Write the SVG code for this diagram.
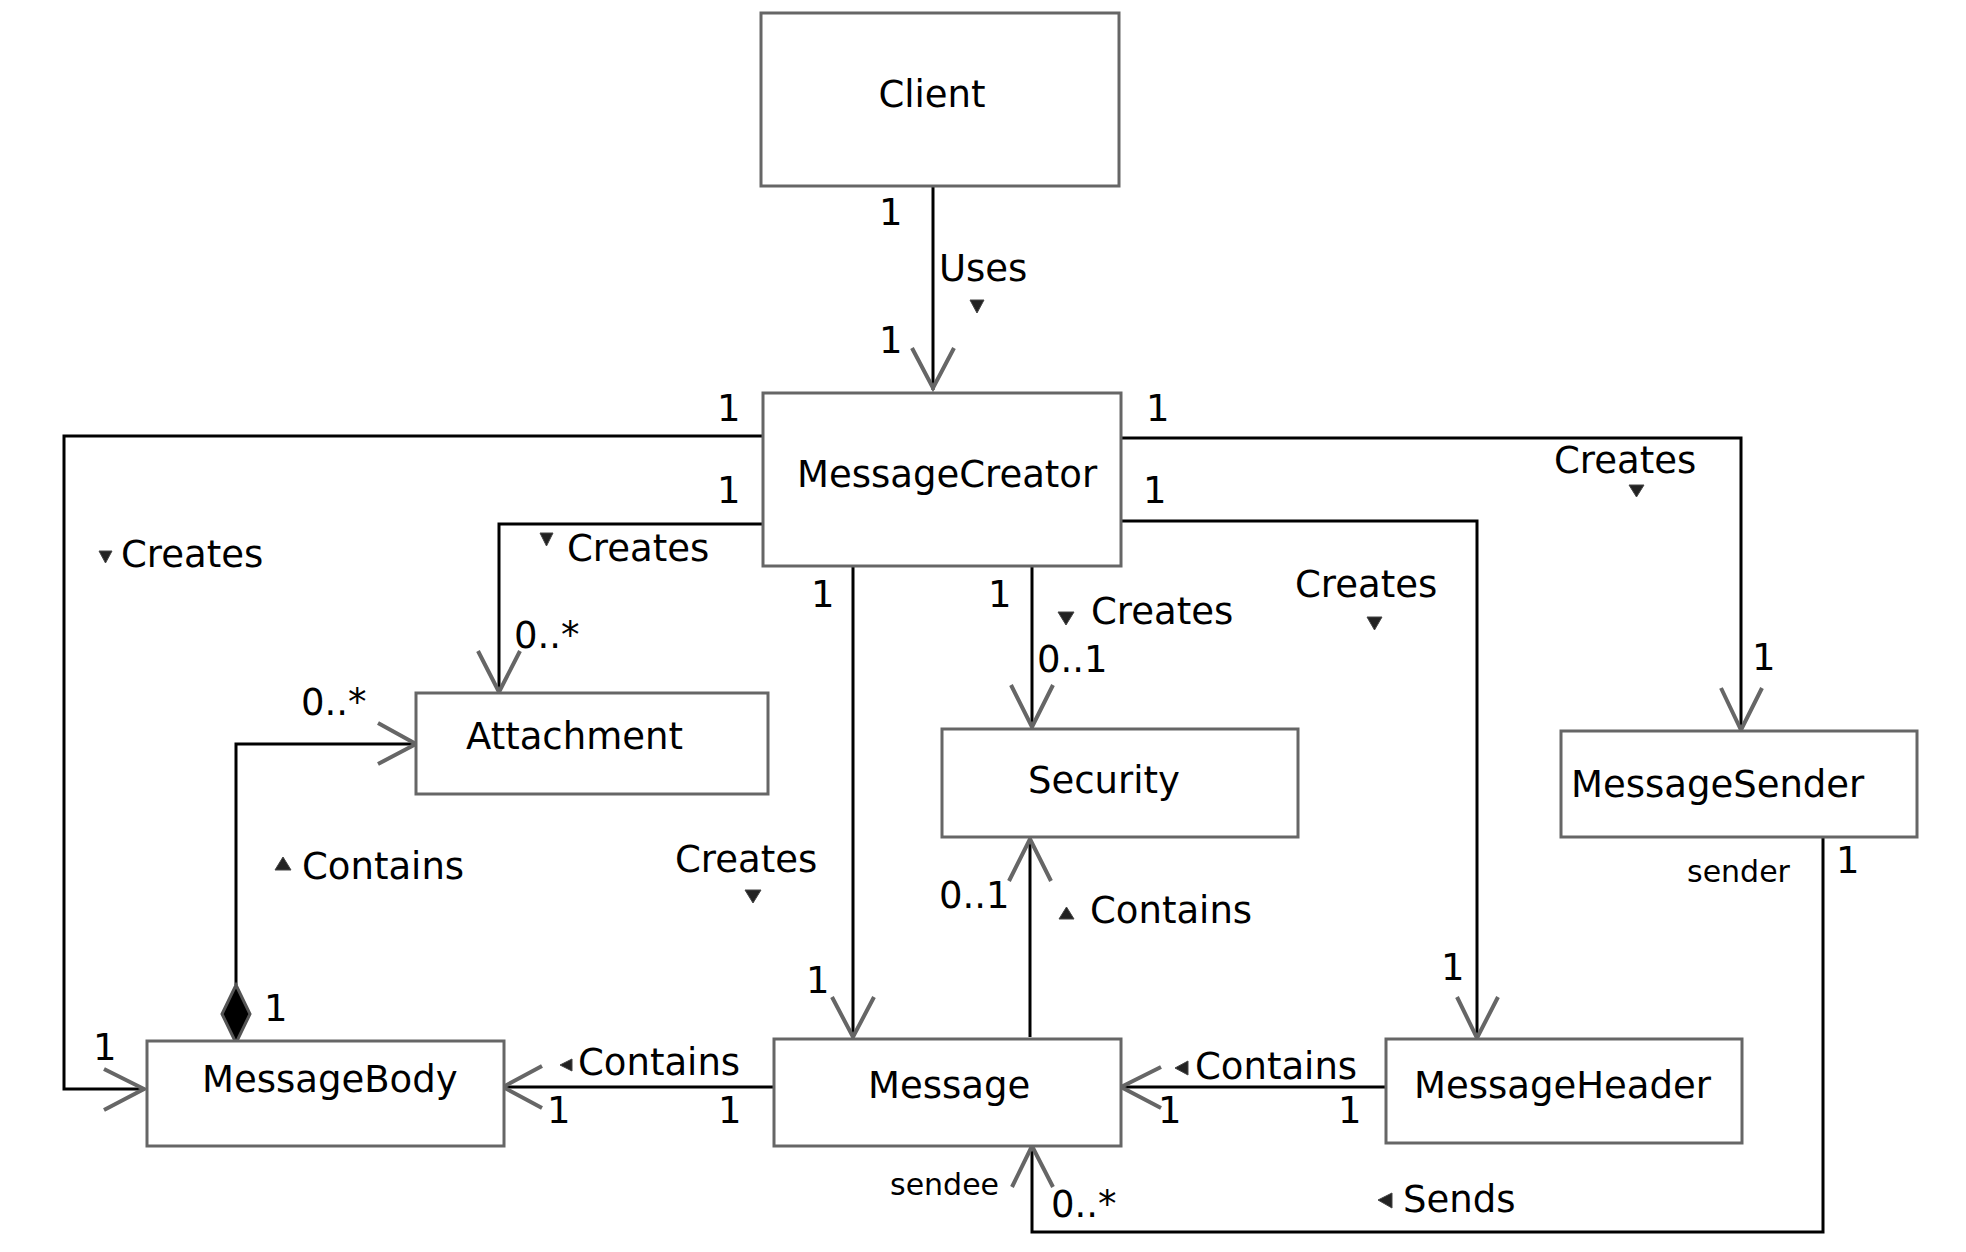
<svg xmlns="http://www.w3.org/2000/svg" width="1966" height="1252" viewBox="0 0 1966 1252">
<style>
.box{fill:#fff;stroke:#666;stroke-width:3}
.name{font-family:"DejaVu Sans",sans-serif;font-size:37px;fill:#000}
.lbl{font-family:"DejaVu Sans",sans-serif;font-size:37px;fill:#000}
.role{font-family:"DejaVu Sans",sans-serif;font-size:30px;fill:#000}
.ln{fill:none;stroke:#000;stroke-width:3}
.ah{fill:none;stroke:#666;stroke-width:4}
.tri{fill:#222;stroke:#444;stroke-width:1}
</style>
<rect width="1966" height="1252" fill="#fff"/>
<g id="connectors">
<path class="ln" d="M933,186 V390"/>
<path class="ah" d="M912,348 L933,388 L954,348"/>
<path class="ln" d="M763,436 H64 V1089 H143"/>
<path class="ah" d="M104,1069 L144,1089 L104,1110"/>
<path class="ln" d="M763,524 H499 V690"/>
<path class="ah" d="M478,651 L499,692 L520,651"/>
<path class="ln" d="M853,566 V1035"/>
<path class="ah" d="M832,997 L853,1037 L874,997"/>
<path class="ln" d="M1032,566 V725"/>
<path class="ah" d="M1011,685 L1032,727 L1053,685"/>
<path class="ln" d="M1121,521 H1477 V1036"/>
<path class="ah" d="M1457,997 L1477,1038 L1498,997"/>
<path class="ln" d="M1121,438 H1741 V728"/>
<path class="ah" d="M1721,688 L1741,730 L1762,688"/>
<path class="ln" d="M236,985 V744 H414"/>
<path class="ah" d="M378,723 L416,744 L378,764"/>
<path d="M236,985 L250,1014 L236,1043 L222,1014 Z" fill="#000" stroke="#555" stroke-width="3"/>
<path class="ln" d="M774,1087 H505"/>
<path class="ah" d="M542,1066 L503,1087 L542,1108"/>
<path class="ln" d="M1030,1037 V841"/>
<path class="ah" d="M1009,881 L1030,839 L1051,881"/>
<path class="ln" d="M1386,1087 H1123"/>
<path class="ah" d="M1161,1067 L1121,1087 L1161,1108"/>
<path class="ln" d="M1823,837 V1232 H1032 V1148"/>
<path class="ah" d="M1012,1187 L1032,1146 L1053,1187"/>
</g>
<g id="labels">
<text class="lbl" x="879" y="225">1</text>
<text class="lbl" x="939" y="281">Uses</text>
<polygon class="tri" points="970,300 984,300 977,313"/>
<text class="lbl" x="879" y="353">1</text>
<text class="lbl" x="717" y="421">1</text>
<text class="lbl" x="717" y="503">1</text>
<polygon class="tri" points="99,551 112,551 105.5,563"/>
<text class="lbl" x="121" y="567">Creates</text>
<polygon class="tri" points="540,533 553,533 546.5,546"/>
<text class="lbl" x="567" y="561">Creates</text>
<text class="lbl" x="514" y="648">0..*</text>
<text class="lbl" x="301" y="715">0..*</text>
<text class="lbl" x="811" y="607">1</text>
<text class="lbl" x="988" y="607">1</text>
<polygon class="tri" points="1058,612 1074,612 1066,625"/>
<text class="lbl" x="1091" y="624">Creates</text>
<text class="lbl" x="1037" y="672">0..1</text>
<text class="lbl" x="1146" y="421">1</text>
<text class="lbl" x="1143" y="503">1</text>
<text class="lbl" x="1295" y="597">Creates</text>
<polygon class="tri" points="1367,617 1382,617 1374.5,630"/>
<text class="lbl" x="1554" y="473">Creates</text>
<polygon class="tri" points="1629,485 1644,485 1636.5,497"/>
<text class="lbl" x="1752" y="670">1</text>
<polygon class="tri" points="275,870 291,870 283,857"/>
<text class="lbl" x="302" y="879">Contains</text>
<text class="lbl" x="675" y="872">Creates</text>
<polygon class="tri" points="745,890 761,890 753,903"/>
<text class="lbl" x="939" y="908">0..1</text>
<polygon class="tri" points="1059,919 1074,919 1066.5,907"/>
<text class="lbl" x="1090" y="923">Contains</text>
<text class="lbl" x="806" y="993">1</text>
<text class="lbl" x="264" y="1021">1</text>
<text class="lbl" x="93" y="1060">1</text>
<polygon class="tri" points="560,1065 572,1059 572,1071"/>
<text class="lbl" x="578" y="1075">Contains</text>
<text class="lbl" x="547" y="1123">1</text>
<text class="lbl" x="718" y="1123">1</text>
<polygon class="tri" points="1175,1068 1188,1061 1188,1075"/>
<text class="lbl" x="1195" y="1079">Contains</text>
<text class="lbl" x="1158" y="1123">1</text>
<text class="lbl" x="1338" y="1123">1</text>
<text class="lbl" x="1441" y="980">1</text>
<text class="role" x="1687" y="882">sender</text>
<text class="lbl" x="1836" y="873">1</text>
<text class="role" x="890" y="1195">sendee</text>
<text class="lbl" x="1051" y="1217">0..*</text>
<polygon class="tri" points="1378,1200 1392,1193 1392,1208"/>
<text class="lbl" x="1403" y="1212">Sends</text>
</g>
<g id="Client"><rect class="box" x="761" y="13" width="358" height="173"/><text class="name" x="932" y="107" text-anchor="middle">Client</text></g>
<g id="MessageCreator"><rect class="box" x="763" y="393" width="358" height="173"/><text class="name" x="797" y="487">MessageCreator</text></g>
<g id="Attachment"><rect class="box" x="416" y="693" width="352" height="101"/><text class="name" x="466" y="749">Attachment</text></g>
<g id="Security"><rect class="box" x="942" y="729" width="356" height="108"/><text class="name" x="1028" y="793">Security</text></g>
<g id="MessageSender"><rect class="box" x="1561" y="731" width="356" height="106"/><text class="name" x="1571" y="797">MessageSender</text></g>
<g id="MessageBody"><rect class="box" x="147" y="1041" width="357" height="105"/><text class="name" x="202" y="1092">MessageBody</text></g>
<g id="Message"><rect class="box" x="774" y="1039" width="347" height="107"/><text class="name" x="868" y="1098">Message</text></g>
<g id="MessageHeader"><rect class="box" x="1386" y="1039" width="356" height="104"/><text class="name" x="1414" y="1098">MessageHeader</text></g>
</svg>
